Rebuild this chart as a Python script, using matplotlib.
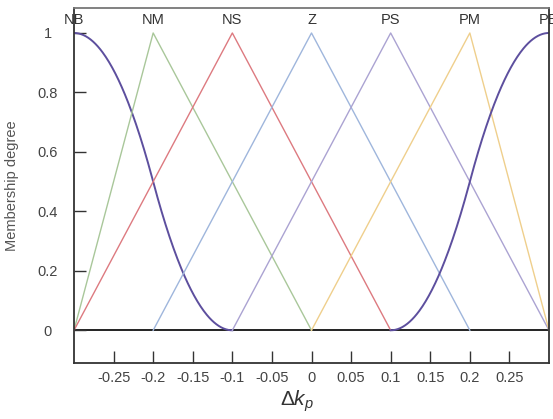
import numpy as np
import matplotlib
matplotlib.use("Agg")
import matplotlib.pyplot as plt

plt.rcParams["font.family"] = ["Liberation Sans", "DejaVu Sans"]
plt.rcParams["mathtext.fontset"] = "custom"
plt.rcParams["mathtext.it"] = "Liberation Sans:italic"
plt.rcParams["mathtext.rm"] = "Liberation Sans"

# fuzzy sets for delta kp
mf_names = ["NB", "NM", "NS", "Z", "PS", "PM", "PB"]
mf_types = ["zmf", "trimf", "trimf", "trimf", "trimf", "trimf", "smf"]
mf_params = [
    [-0.3, -0.1],
    [-0.3, -0.2, 0.0],
    [-0.3, -0.1, 0.1],
    [-0.2, 0.0, 0.2],
    [-0.1, 0.1, 0.3],
    [0.0, 0.2, 0.3],
    [0.1, 0.3],
]
mf_colors = ["#5d4f9e", "#a9c79a", "#dd7a80", "#9fb6dc", "#aba3d2", "#efcf8c", "#5d4f9e"]
mf_peaks = [-0.3, -0.2, -0.1, 0.0, 0.1, 0.2, 0.3]

x_ticks = [-0.25, -0.2, -0.15, -0.1, -0.05, 0, 0.05, 0.1, 0.15, 0.2, 0.25]
x_tick_labels = ["-0.25", "-0.2", "-0.15", "-0.1", "-0.05", "0", "0.05", "0.1", "0.15", "0.2", "0.25"]
y_ticks = [0, 0.2, 0.4, 0.6, 0.8, 1]
y_tick_labels = ["0", "0.2", "0.4", "0.6", "0.8", "1"]


def zmf(x, a, b):
    m = (a + b) / 2
    y = np.ones_like(x)
    left = (x > a) & (x <= m)
    right = (x > m) & (x < b)
    y[left] = 1 - 2 * ((x[left] - a) / (b - a)) ** 2
    y[right] = 2 * ((x[right] - b) / (b - a)) ** 2
    y[x >= b] = 0
    return y


def mf_curve(kind, p):
    if kind == "trimf":
        return p, [0, 1, 0]
    xs = np.linspace(p[0], p[1], 200)
    if kind == "zmf":
        return xs, zmf(xs, p[0], p[1])
    return xs, 1 - zmf(xs, p[0], p[1])


fig = plt.figure(figsize=(5.53, 4.19), dpi=100)
ax = fig.add_axes([74 / 553, 1 - 363 / 419, 475 / 553, 355 / 419])

ax.axhline(0, color="#222222", lw=1.4, zorder=1)
for name, kind, p, c, peak in zip(mf_names, mf_types, mf_params, mf_colors, mf_peaks):
    xs, ys = mf_curve(kind, p)
    lw = 1.4 if kind != "trimf" else 1.0
    ax.plot(xs, ys, color=c, lw=lw, zorder=2)
    ax.text(peak, 1.045, name, ha="center", va="center", fontsize=10.5,
            color="#333333", clip_on=False)

ax.set_xlim(-0.3, 0.3)
ax.set_ylim(-0.11, 1.084)
ax.set_xticks(x_ticks)
ax.set_xticklabels(x_tick_labels)
ax.set_yticks(y_ticks)
ax.set_yticklabels(y_tick_labels)
ax.tick_params(axis="both", direction="in", length=8.5, width=1.0, color="#333333",
               labelsize=10.5, labelcolor="#444444")
ax.tick_params(axis="x", pad=6)
ax.tick_params(axis="y", pad=19)
for lbl in ax.get_yticklabels():
    lbl.set_horizontalalignment("center")

for side in ["left", "right", "bottom", "top"]:
    ax.spines[side].set_linewidth(1.3)
    ax.spines[side].set_color("#333333")
ax.spines["top"].set_color("#777777")

ax.set_ylabel("Membership degree", fontsize=10.5, color="#555555", labelpad=10)
ax.yaxis.set_label_coords(-55 / 475, 0.5)
ax.set_xlabel(r"$\mathit{\Delta k_p}$", fontsize=15, color="#333333")
ax.xaxis.set_label_coords(0.47, -0.072)
ax.xaxis.label.set_verticalalignment("top")

fig.savefig("out.png", dpi=100)
